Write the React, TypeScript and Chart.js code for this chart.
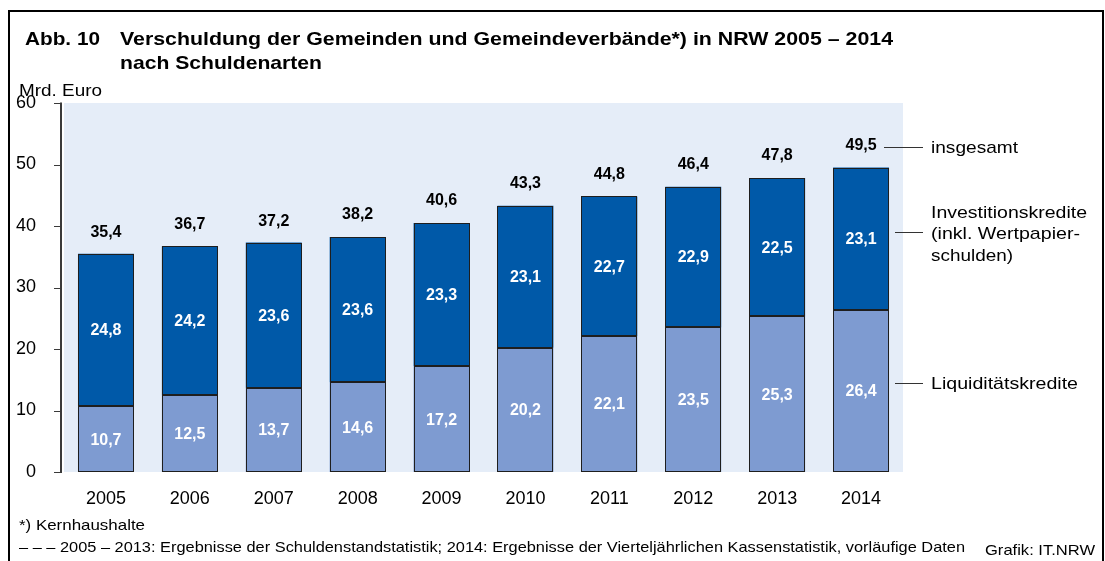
import React, { useEffect, useRef } from "react";
import { Chart, registerables } from "chart.js";

Chart.register(...registerables);

const years = ["2005", "2006", "2007", "2008", "2009", "2010", "2011", "2012", "2013", "2014"];
const liquiditaet = [10.7, 12.5, 13.7, 14.6, 17.2, 20.2, 22.1, 23.5, 25.3, 26.4];
const investition = [24.8, 24.2, 23.6, 23.6, 23.3, 23.1, 22.7, 22.9, 22.5, 23.1];
const insgesamt = [35.4, 36.7, 37.2, 38.2, 40.6, 43.3, 44.8, 46.4, 47.8, 49.5];
const yTicks = [0, 10, 20, 30, 40, 50, 60];

const FONT = "'Liberation Sans', Arial, sans-serif";
const fmt = (v: number) => v.toFixed(1).replace(".", ",");

function fitText(ctx: CanvasRenderingContext2D, text: string, x: number, y: number, w: number, font: string) {
  ctx.font = font;
  const m = ctx.measureText(text).width;
  ctx.save();
  ctx.translate(x, y);
  ctx.scale(w / m, 1);
  ctx.textAlign = "left";
  ctx.fillText(text, 0, 0);
  ctx.restore();
}

const decor = {
  id: "decor",
  beforeDraw(chart: any) {
    const { ctx, chartArea } = chart;
    ctx.save();
    ctx.fillStyle = "#ffffff";
    ctx.fillRect(0, 0, chart.width, chart.height);
    ctx.fillStyle = "#E5EDF8";
    ctx.fillRect(chartArea.left, chartArea.top, chartArea.right - chartArea.left, chartArea.bottom - chartArea.top);
    ctx.restore();
  },
  afterDraw(chart: any) {
    const { ctx, chartArea } = chart;
    const y = chart.scales.y;
    ctx.save();
    // y axis line and ticks
    ctx.strokeStyle = "#3a3a3a";
    ctx.lineWidth = 2;
    const ax = chartArea.left - 3;
    ctx.beginPath();
    ctx.moveTo(ax, Math.round(y.getPixelForValue(60)) - 0.5);
    ctx.lineTo(ax, Math.round(y.getPixelForValue(0)) + 1);
    ctx.stroke();
    ctx.lineWidth = 1;
    yTicks.forEach((t) => {
      const py = Math.round(y.getPixelForValue(t)) + 0.5;
      ctx.beginPath();
      ctx.moveTo(ax - 7, py);
      ctx.lineTo(ax, py);
      ctx.stroke();
    });

    // bar outlines
    const m0 = chart.getDatasetMeta(0);
    const m1 = chart.getDatasetMeta(1);
    ctx.strokeStyle = "#1e1e1e";
    ctx.lineWidth = 1;
    [m0, m1].forEach((meta: any) => {
      meta.data.forEach((b: any) => {
        const l = Math.round(b.x - b.width / 2) + 0.5;
        const r = Math.round(b.x + b.width / 2) - 0.5;
        const t = Math.round(Math.min(b.y, b.base)) + 0.5;
        const bt = Math.round(Math.max(b.y, b.base)) - 0.5;
        ctx.strokeRect(l, t, r - l, bt - t);
      });
    });

    // value labels
    ctx.textAlign = "center";
    ctx.textBaseline = "middle";
    ctx.font = `bold 16px ${FONT}`;
    years.forEach((_, i) => {
      const b0 = m0.data[i];
      const b1 = m1.data[i];
      ctx.fillStyle = "#ffffff";
      ctx.fillText(fmt(liquiditaet[i]), b0.x, (b0.y + b0.base) / 2 + 1);
      ctx.fillText(fmt(investition[i]), b1.x, (b1.y + b1.base) / 2 + 1);
      ctx.fillStyle = "#000000";
      ctx.fillText(fmt(insgesamt[i]), b1.x, y.getPixelForValue(insgesamt[i]) - 22);
    });

    ctx.textBaseline = "alphabetic";
    ctx.fillStyle = "#000000";
    // title
    fitText(ctx, "Abb. 10", 25, 45, 75, `bold 19px ${FONT}`);
    fitText(ctx, "Verschuldung der Gemeinden und Gemeindeverbände*) in NRW 2005 – 2014", 120, 45, 773, `bold 19px ${FONT}`);
    fitText(ctx, "nach Schuldenarten", 120, 69, 202, `bold 19px ${FONT}`);
    fitText(ctx, "Mrd. Euro", 19, 96, 83, `17px ${FONT}`);

    // right-side annotations
    ctx.strokeStyle = "#333";
    ctx.lineWidth = 1;
    const lines: [number, number, number][] = [
      [884, 923, 147.5],
      [895, 923, 232.5],
      [895, 923, 383.5],
    ];
    lines.forEach(([x1, x2, ly]) => {
      ctx.beginPath();
      ctx.moveTo(x1, ly);
      ctx.lineTo(x2, ly);
      ctx.stroke();
    });
    fitText(ctx, "insgesamt", 931, 153, 87, `17px ${FONT}`);
    fitText(ctx, "Investitionskredite", 931, 218, 156, `17px ${FONT}`);
    fitText(ctx, "(inkl. Wertpapier-", 931, 239, 149, `17px ${FONT}`);
    fitText(ctx, "schulden)", 931, 261, 82, `17px ${FONT}`);
    fitText(ctx, "Liquiditätskredite", 931, 389, 147, `17px ${FONT}`);

    // footnotes
    fitText(ctx, "*) Kernhaushalte", 19, 530, 126, `15px ${FONT}`);
    fitText(
      ctx,
      "– – – 2005 – 2013: Ergebnisse der Schuldenstandstatistik; 2014: Ergebnisse der Vierteljährlichen Kassenstatistik, vorläufige Daten",
      19,
      552,
      946,
      `15px ${FONT}`
    );
    fitText(ctx, "Grafik: IT.NRW", 985, 555, 110, `15px ${FONT}`);

    // frame
    ctx.strokeStyle = "#000";
    ctx.lineWidth = 2;
    ctx.strokeRect(9, 11, 1094, 620);
    ctx.restore();
  },
};

export default function App() {
  const ref = useRef<HTMLCanvasElement>(null);
  useEffect(() => {
    if (!ref.current) return;
    const chart = new Chart(ref.current, {
      type: "bar",
      data: {
        labels: years,
        datasets: [
          {
            label: "Liquiditätskredite",
            data: liquiditaet,
            backgroundColor: "#7E9BD1",
            borderWidth: 0,
            categoryPercentage: 1,
            barPercentage: 0.667,
          },
          {
            label: "Investitionskredite",
            data: investition,
            backgroundColor: "#0059A8",
            borderWidth: 0,
            categoryPercentage: 1,
            barPercentage: 0.667,
          },
        ],
      },
      options: {
        responsive: false,
        animation: false,
        devicePixelRatio: 1,
        layout: { padding: { top: 103, right: 202, bottom: 49, left: 0 } },
        plugins: { legend: { display: false }, tooltip: { enabled: false }, title: { display: false } },
        scales: {
          x: {
            stacked: true,
            grid: { display: false },
            border: { display: false },
            ticks: { color: "#000", font: { family: FONT, size: 18 }, padding: 8 },
            afterFit: (s: any) => {
              s.height = 40;
            },
          },
          y: {
            stacked: true,
            min: 0,
            max: 60,
            grid: { display: false },
            border: { display: false },
            ticks: { stepSize: 10, color: "#000", font: { family: FONT, size: 18 }, padding: 20 },
            afterFit: (s: any) => {
              s.width = 64;
            },
          },
        },
      },
      plugins: [decor],
    });
    return () => chart.destroy();
  }, []);
  return (
    <div style={{ position: "absolute", left: 0, top: 0, width: 1105, height: 561 }}>
      <canvas ref={ref} width={1105} height={561} />
    </div>
  );
}
